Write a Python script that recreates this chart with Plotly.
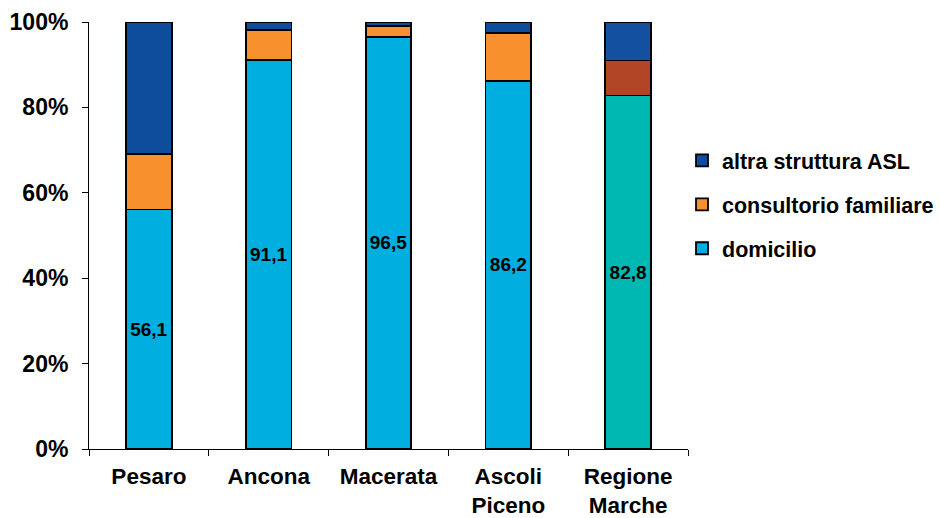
import plotly.graph_objects as go

categories = ["Pesaro", "Ancona", "Macerata", "Ascoli<br>Piceno", "Regione<br>Marche"]
domicilio = [56.1, 91.1, 96.5, 86.2, 82.8]
consultorio = [12.9, 7.0, 2.5, 11.3, 8.2]
altra_asl = [31.0, 1.9, 1.0, 2.5, 9.0]

# regional total drawn with its own palette
col_dom = ["#00AEDF"] * 4 + ["#00B8B2"]
col_cons = ["#F7902D"] * 4 + ["#B24526"]
col_altra = ["#0E4C9C"] * 4 + ["#1450A0"]

FONT = "Liberation Sans, Arial, sans-serif"
line = dict(color="black", width=1.8)

fig = go.Figure()
fig.add_trace(go.Bar(
    x=categories, y=domicilio, name="<b>domicilio</b>", legendgroup="a", legendrank=3,
    marker=dict(color=col_dom, line=line),
    texttemplate="<b>%{y:.1f}</b>", textposition="inside",
    insidetextanchor="middle", textangle=0,
    textfont=dict(family=FONT, size=19, color="black"),
))
fig.add_trace(go.Bar(
    x=categories, y=consultorio, name="<b>consultorio familiare</b>", legendgroup="b",
    legendrank=2, marker=dict(color=col_cons, line=line),
))
fig.add_trace(go.Bar(
    x=categories, y=altra_asl, name="<b>altra struttura ASL</b>", legendgroup="c",
    legendrank=1, marker=dict(color=col_altra, line=line),
))

fig.update_layout(
    barmode="stack",
    bargap=0.62,
    width=940, height=518,
    margin=dict(l=89, r=252, t=22, b=69, autoexpand=False),
    plot_bgcolor="white", paper_bgcolor="white",
    separators=",.",
    font=dict(family=FONT, size=21, color="black"),
    legend=dict(
        x=0.99, y=0.724, xanchor="left", yanchor="top",
        traceorder="grouped", tracegroupgap=13,
        font=dict(family=FONT, size=21.5, color="black"),
    ),
    showlegend=True,
)
fig.update_yaxes(
    range=[0, 100], dtick=20, ticksuffix="%</b>", tickprefix="<b>",
    showgrid=False, zeroline=False, automargin=False,
    showline=True, linecolor="black", linewidth=1,
    ticks="outside", ticklen=6, tickcolor="black", ticklabelstandoff=9,
    tickfont=dict(family=FONT, size=23, color="black"),
)
fig.update_xaxes(
    showgrid=False, showline=True, linecolor="black", linewidth=1, automargin=False,
    ticks="outside", ticklen=6, tickcolor="black", tickson="boundaries",
    ticklabelstandoff=7,
    tickfont=dict(family=FONT, size=22.5, color="black"),
    tickvals=categories,
    ticktext=["<b>" + c.replace("<br>", "</b><br><b>") + "</b>" for c in categories],
)

fig.write_html("out.html")
